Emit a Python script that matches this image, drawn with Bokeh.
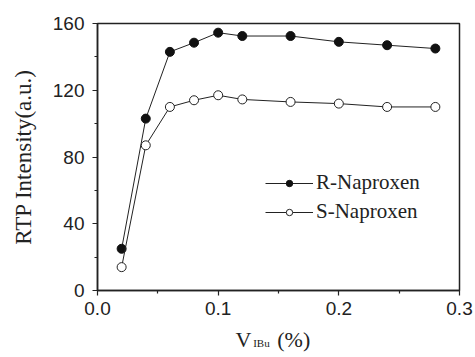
from bokeh.plotting import figure
from bokeh.models import Range1d, FixedTicker, Legend, LegendItem, Label, CustomJSTickFormatter
from bokeh.layouts import column
from bokeh.embed import file_html
from bokeh.resources import INLINE

x_vals = [0.02, 0.04, 0.06, 0.08, 0.10, 0.12, 0.16, 0.20, 0.24, 0.28]
r_naproxen = [25, 103, 143, 148.5, 154.5, 152.5, 152.5, 149, 147, 145]
s_naproxen = [14, 87, 110, 114, 117, 114.5, 113, 112, 110, 110]
x_ticks = [0, 0.1, 0.2, 0.3]
x_minor = [0.05, 0.15, 0.25]
y_ticks = [0, 40, 80, 120, 160]
y_minor = [20, 60, 100, 140]

p = figure(width=475, height=322, output_backend="svg", toolbar_location=None,
           x_range=Range1d(0, 0.3), y_range=Range1d(0, 160),
           min_border_left=97, min_border_right=16, min_border_top=23, min_border_bottom=32)
p.background_fill_color = "white"
p.border_fill_color = "white"
p.grid.visible = False
p.outline_line_color = "#222222"
p.outline_line_width = 1.5

p.xaxis.ticker = FixedTicker(ticks=x_ticks, minor_ticks=x_minor)
p.yaxis.ticker = FixedTicker(ticks=y_ticks, minor_ticks=y_minor)
p.xaxis.formatter = CustomJSTickFormatter(code="return tick.toFixed(1);")
for ax in (p.xaxis[0], p.yaxis[0]):
    ax.axis_line_width = 1.5
    ax.axis_line_color = "#222222"
    ax.major_tick_line_color = "#222222"
    ax.minor_tick_line_color = "#222222"
    ax.major_tick_line_width = 1.2
    ax.minor_tick_line_width = 1.2
    ax.major_tick_out = 5
    ax.major_tick_in = 0
    ax.minor_tick_out = 3
    ax.minor_tick_in = 0
    ax.major_label_text_font = "Liberation Sans"
    ax.major_label_text_font_size = "19px"
    ax.major_label_text_color = "#222222"

p.xaxis.major_label_standoff = 6
p.yaxis.major_label_standoff = 8
p.yaxis.axis_label = "RTP Intensity(a.u.)"
p.yaxis.axis_label_text_font = "Liberation Serif"
p.yaxis.axis_label_text_font_size = "23px"
p.yaxis.axis_label_text_font_style = "normal"
p.yaxis.axis_label_text_color = "#222222"
p.yaxis.axis_label_standoff = 14

lr = p.line(x_vals, r_naproxen, line_color="#222222", line_width=1)
sr = p.scatter(x_vals, r_naproxen, marker="circle", size=9, fill_color="#111111", line_color="#111111")
ls = p.line(x_vals, s_naproxen, line_color="#222222", line_width=1)
ss = p.scatter(x_vals, s_naproxen, marker="circle", size=9, fill_color="white", line_color="#222222", line_width=1)

legend = Legend(items=[LegendItem(label="R-Naproxen", renderers=[lr, sr]),
                       LegendItem(label="S-Naproxen", renderers=[ls, ss])],
                location=(168, 66), border_line_color=None, background_fill_alpha=0,
                label_text_font="Liberation Serif", label_text_font_size="21px",
                label_text_color="#222222", glyph_width=48, glyph_height=16,
                label_height=16, spacing=4, padding=0, margin=0, label_standoff=3)
p.add_layout(legend)

# second strip holding the x-axis title (with subscript)
p2 = figure(width=475, height=35, output_backend="svg", toolbar_location=None,
            x_range=Range1d(0, 0.3), y_range=Range1d(0, 35),
            min_border_left=97, min_border_right=16, min_border_top=0, min_border_bottom=0)
p2.axis.visible = False
p2.grid.visible = False
p2.outline_line_color = None
p2.background_fill_color = "white"
p2.border_fill_color = "white"

lab_font = "Liberation Serif"
common = dict(text_font=lab_font, text_color="#222222",
              text_baseline="alphabetic", text_align="left")
p2.add_layout(Label(x=0.1144, y=18, text="V", text_font_size="22px", **common))
p2.add_layout(Label(x=0.1290, y=14.5, text="IBu", text_font_size="11px", **common))
p2.add_layout(Label(x=0.1490, y=18, text="(%)", text_font_size="22px", **common))

open("out.html", "w").write(file_html(column(p, p2, spacing=0), INLINE))
